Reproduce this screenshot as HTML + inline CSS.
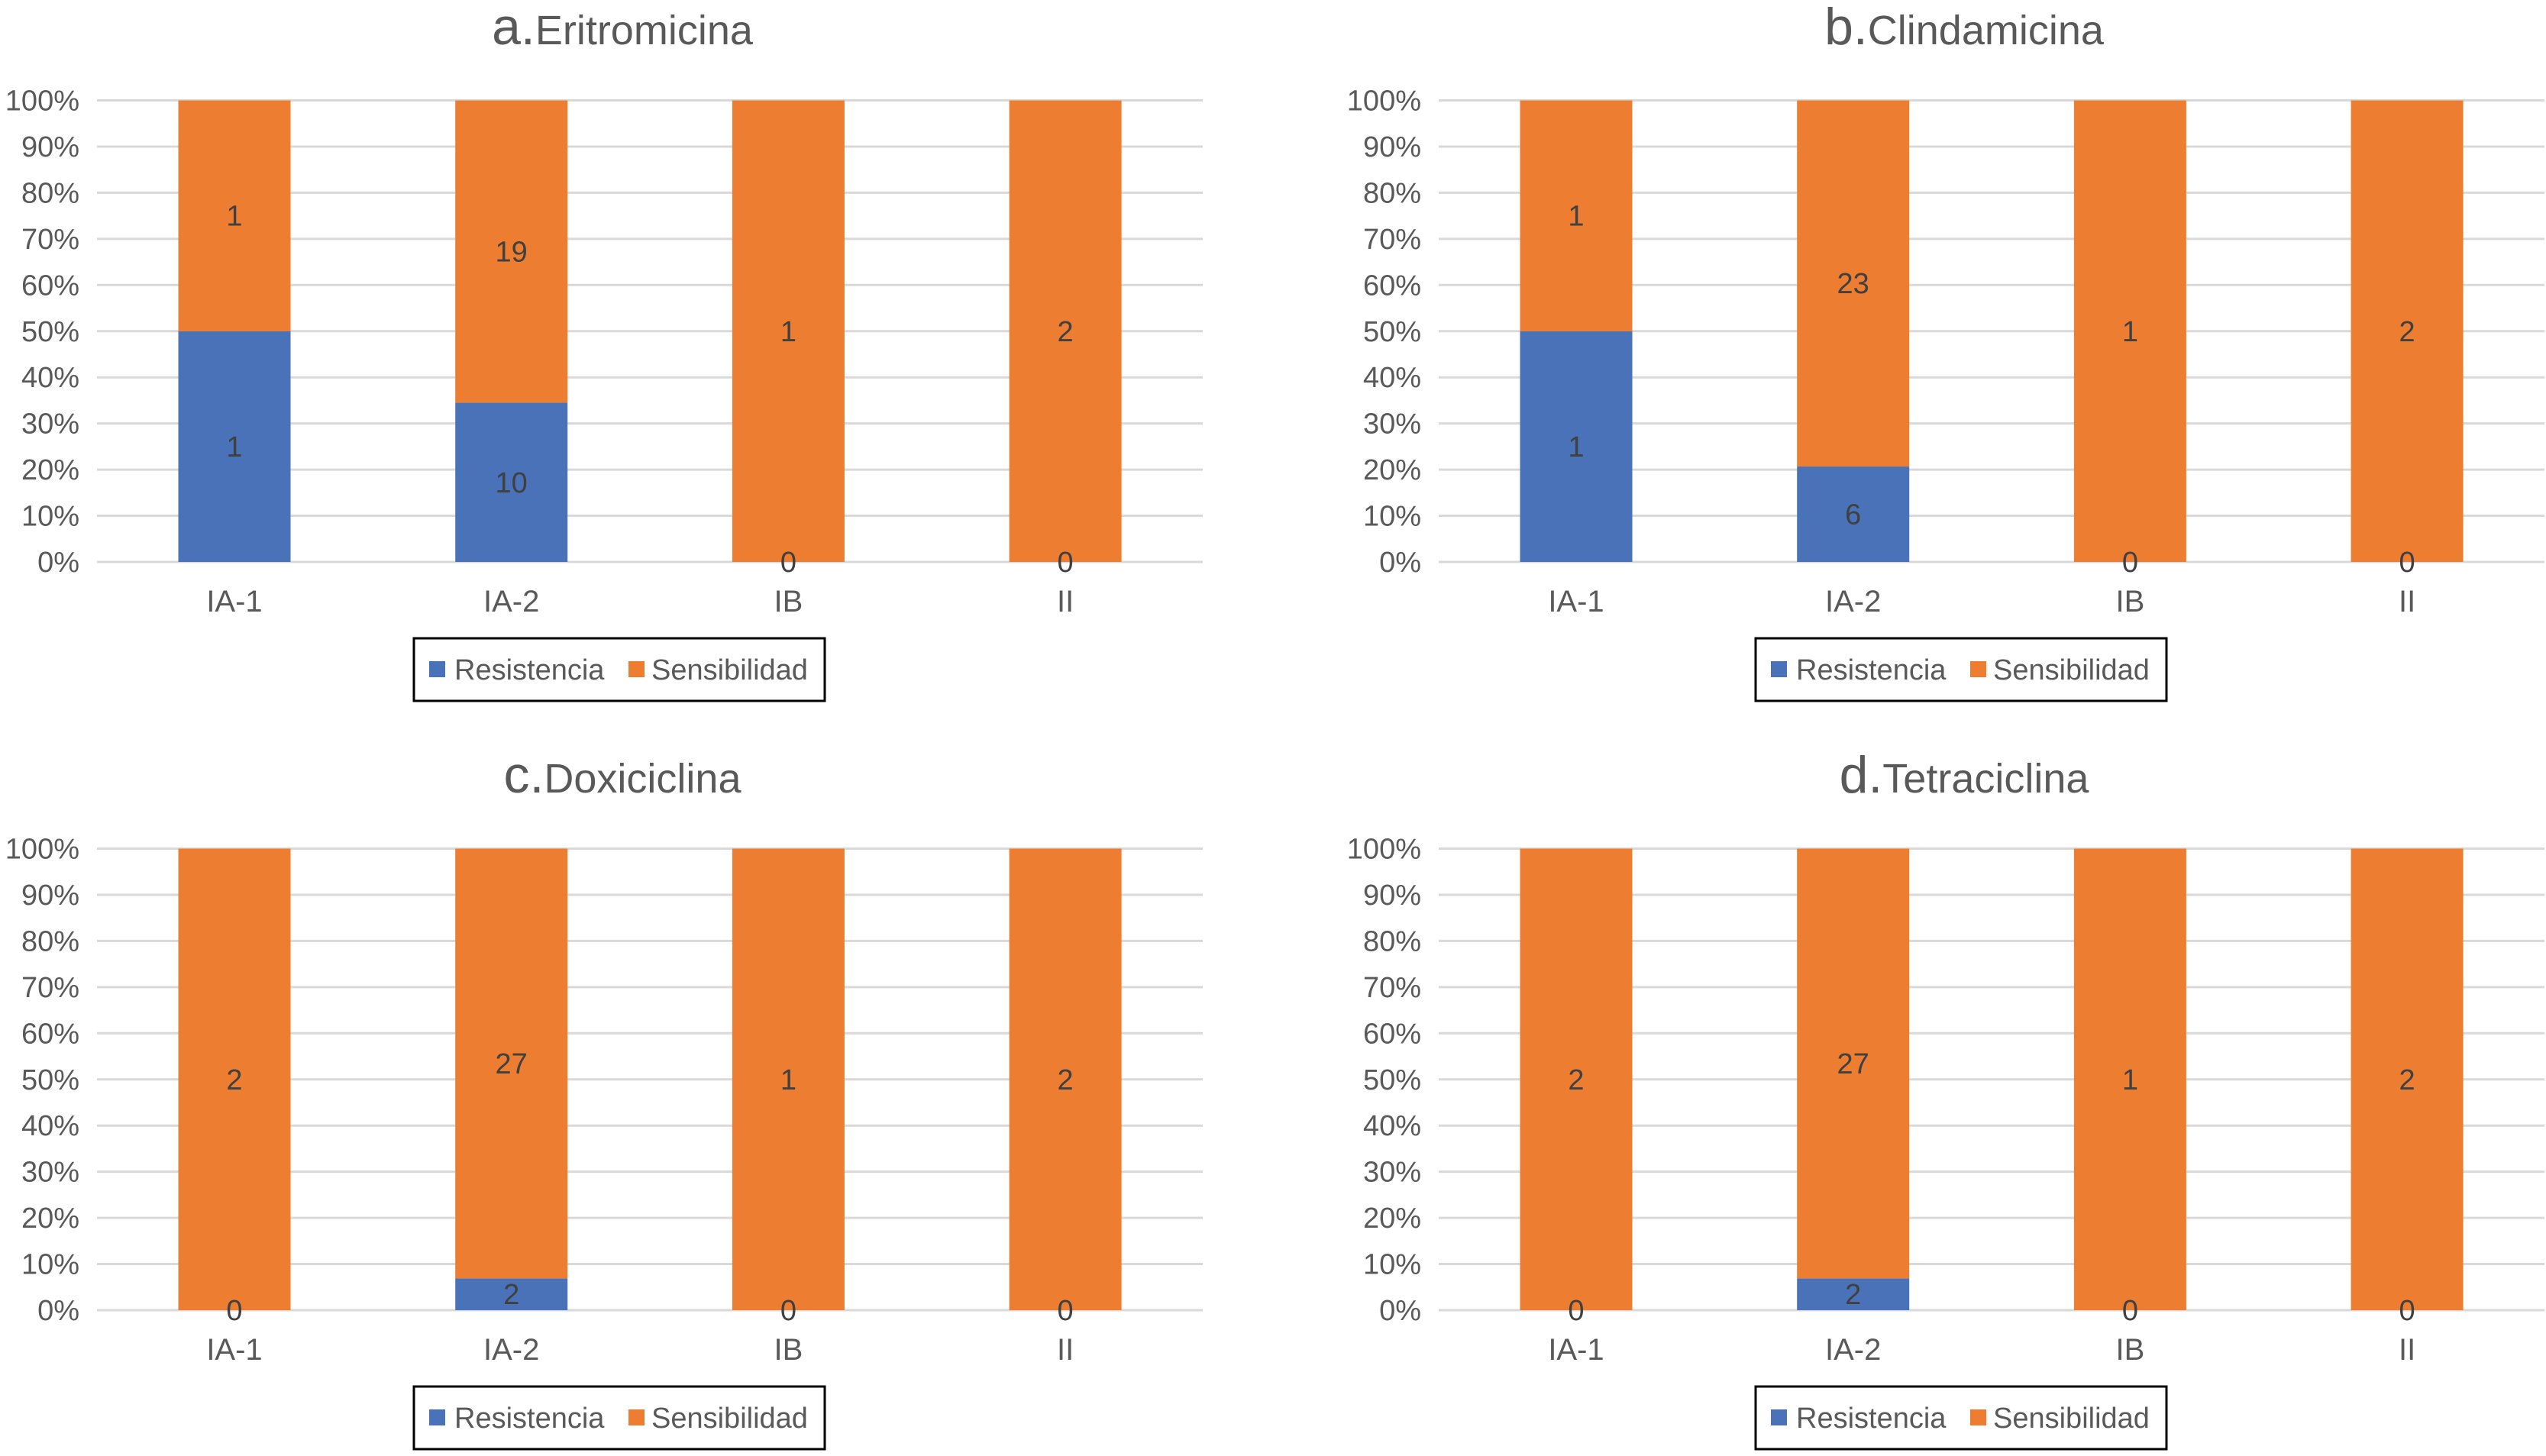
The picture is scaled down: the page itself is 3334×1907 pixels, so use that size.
<!DOCTYPE html>
<html><head><meta charset="utf-8"><style>
html,body{margin:0;padding:0;background:#fff;}
svg{display:block;font-family:"Liberation Sans",Arial,sans-serif;}
</style></head><body>
<svg id="root" width="3334" height="1907" viewBox="0 0 3334 1907" xmlns="http://www.w3.org/2000/svg"></svg>
<script>
const categories = ["IA-1","IA-2","IB","II"];
const titlePrefixes = ["a.","b.","c.","d."];
const titleNames = ["Eritromicina","Clindamicina","Doxiciclina","Tetraciclina"];
const resistA = [1,10,0,0];
const sensA = [1,19,1,2];
const resistB = [1,6,0,0];
const sensB = [1,23,1,2];
const resistC = [0,2,0,0];
const sensC = [2,27,1,2];
const resistD = [0,2,0,0];
const sensD = [2,27,1,2];
const tickValues = [0,10,20,30,40,50,60,70,80,90,100];
const resistAll = [resistA,resistB,resistC,resistD];
const sensAll = [sensA,sensB,sensC,sensD];

const NS="http://www.w3.org/2000/svg";
const root=document.getElementById('root');
function mk(tag,attrs,parent){const e=document.createElementNS(NS,tag);for(const k in attrs)e.setAttribute(k,attrs[k]);parent.appendChild(e);return e;}
const BLUE="#4a72b8", ORANGE="#ED7D31";
const offsets=[[0,0],[1757,0],[0,980],[1757,980]];
for(let p=0;p<4;p++){
  const ox=offsets[p][0], oy=offsets[p][1];
  const g=mk('g',{transform:`translate(${ox},${oy})`},root);
  
  
  const y0=736, y100=131.5;
  const yS=v=>y0-(v/100)*(y0-y100);
  const xC=i=>307+362.7*i;
  const bw=147;
  const t=mk('text',{x:815,y:58,'text-anchor':'middle',fill:'#595959','font-size':54},g);
  
  
  const ts1=mk('tspan',{'font-size':68},t); ts1.textContent=titlePrefixes[p];
  const ts2=mk('tspan',{},t); ts2.textContent=titleNames[p];
  tickValues.forEach(v=>{
    const l=mk('line',{x1:127,x2:1575,y1:yS(v),y2:yS(v),stroke:'#d9d9d9','stroke-width':3},g);
    
    
    const tx=mk('text',{x:104,y:yS(v)+13,'text-anchor':'end',fill:'#595959','font-size':38},g);
    
    
    tx.textContent=v+'%';
  });
  const R=resistAll[p], S=sensAll[p];
  categories.forEach((c,i)=>{
    const tot=R[i]+S[i];
    const rp=tot?R[i]/tot*100:0;
    const r1=mk('rect',{x:xC(i)-bw/2,y:yS(rp),width:bw,height:y0-yS(rp),fill:BLUE},g);
    
    
    const r2=mk('rect',{x:xC(i)-bw/2,y:yS(100),width:bw,height:yS(rp)-yS(100),fill:ORANGE},g);
    
    
    const l1=mk('text',{x:xC(i),y:yS(rp/2)+13,'text-anchor':'middle',fill:'#404040','font-size':38},g);
    
    
    l1.textContent=R[i];
    const l2=mk('text',{x:xC(i),y:yS(rp+(100-rp)/2)+13,'text-anchor':'middle',fill:'#404040','font-size':38},g);
    
    
    l2.textContent=S[i];
    const cl=mk('text',{x:xC(i),y:801,'text-anchor':'middle',fill:'#595959','font-size':40},g);
    
    
    cl.textContent=c;
  });
  const lg=mk('g',{},g);
  
  
  mk('rect',{x:542,y:836,width:538,height:82,fill:'#fff',stroke:'#000','stroke-width':3},lg);
  const s1=mk('rect',{x:562,y:866,width:21,height:21,fill:BLUE},lg);
  
  
  const lt1=mk('text',{x:595,y:890,fill:'#595959','font-size':38},lg);
  
  
  lt1.textContent='Resistencia';
  const s2=mk('rect',{x:823,y:866,width:21,height:21,fill:ORANGE},lg);
  
  
  const lt2=mk('text',{x:853,y:890,fill:'#595959','font-size':38},lg);
  
  
  lt2.textContent='Sensibilidad';
}
</script>
</body></html>
